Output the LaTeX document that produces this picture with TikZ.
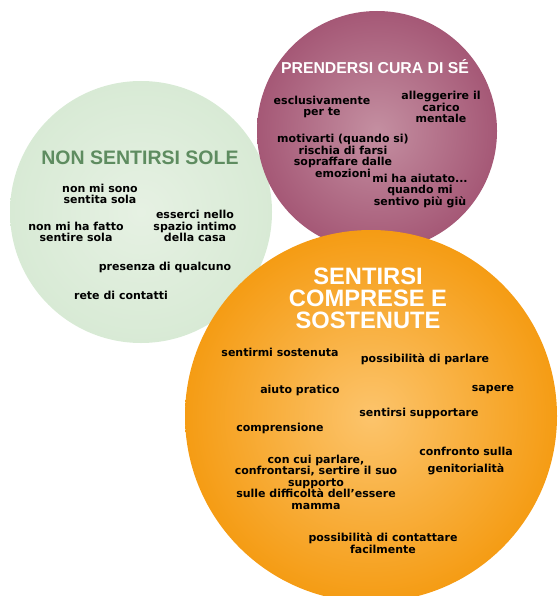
\documentclass[tikz,border=0pt]{standalone}
\usepackage{fontspec}
\setmainfont{DejaVu Sans}
\newfontfamily\headfont{Liberation Sans}

\definecolor{mint}{HTML}{D8EAD5}
\definecolor{mintlight}{HTML}{E6F1E3}
\definecolor{sage}{HTML}{5E8C60}
\definecolor{plum}{HTML}{A55876}
\definecolor{plumlight}{HTML}{C48FA1}
\definecolor{orangedark}{HTML}{F59C14}
\definecolor{orangelight}{HTML}{FCC46C}

\tikzset{
  voce/.style={font=\bfseries\fontsize{11}{11.5}\selectfont, align=center, text=black, inner sep=0pt},
  titolo/.style={font=\headfont\bfseries, align=center, inner sep=0pt},
}

\begin{document}
\begin{tikzpicture}[x=1pt,y=-1pt]
  \useasboundingbox (0,0) rectangle (557,596);

  % the three circles
  \shade [ inner color=mintlight, outer color=mint ] (141,212) circle (131pt);
  \shade [ inner color=plumlight, outer color=plum ] (377,131) circle (120pt);
  \shade [ inner color=orangelight, outer color=orangedark ] (371,416) circle (186pt);

  % non sentirsi sole
  \node [ titolo, text=sage, font=\headfont\bfseries\fontsize{19.5}{21}\selectfont ] (soleT) at (140,158) {NON SENTIRSI SOLE};
  \node [ voce ] (sole1) at (100,194) {non mi sono\\sentita sola};
  \node [ voce ] (sole2) at (76,232) {non mi ha fatto\\sentire sola};
  \node [ voce ] (sole3) at (195,226) {esserci nello\\spazio intimo\\della casa};
  \node [ voce ] (sole4) at (165,267) {presenza di qualcuno};
  \node [ voce ] (sole5) at (121,295) {rete di contatti};

  % prendersi cura di se
  \node [ titolo, text=white, font=\headfont\bfseries\fontsize{15.8}{17}\selectfont ] (curaT) at (375,67) {PRENDERSI CURA DI SÉ};
  \node [ voce ] (cura1) at (322,107) {esclusivamente\\per te};
  \node [ voce ] (cura2) at (441,107) {alleggerire il\\carico\\mentale};
  \node [ voce ] (cura3) at (343,156) {motivarti (quando si)\\rischia di farsi\\sopraffare dalle\\emozioni};
  \node [ voce ] (cura4) at (420,191) {mi ha aiutato...\\quando mi\\sentivo più giù};

  % sentirsi comprese e sostenute
  \node [ titolo, text=white, font=\headfont\bfseries\fontsize{23.7}{22}\selectfont ] (sostT) at (368,298) {SENTIRSI\\COMPRESE E\\SOSTENUTE};
  \node [ voce ] (sost1) at (280,352) {sentirmi sostenuta};
  \node [ voce ] (sost2) at (425,359) {possibilità di parlare};
  \node [ voce ] (sost3) at (300,390) {aiuto pratico};
  \node [ voce ] (sost4) at (493,390) {sapere};
  \node [ voce ] (sost5) at (419,413) {sentirsi supportare};
  \node [ voce ] (sost6) at (280,428) {comprensione};
  \node [ voce ] (sost7) at (316,482) {con cui parlare,\\confrontarsi, sertire il suo\\supporto\\sulle difficoltà dell'essere\\mamma};
  \node [ voce, font=\bfseries\fontsize{11}{17}\selectfont ] (sost8) at (466,461) {confronto sulla\\genitorialità};
  \node [ voce ] (sost9) at (383,543) {possibilità di contattare\\facilmente};
\end{tikzpicture}
\end{document}
